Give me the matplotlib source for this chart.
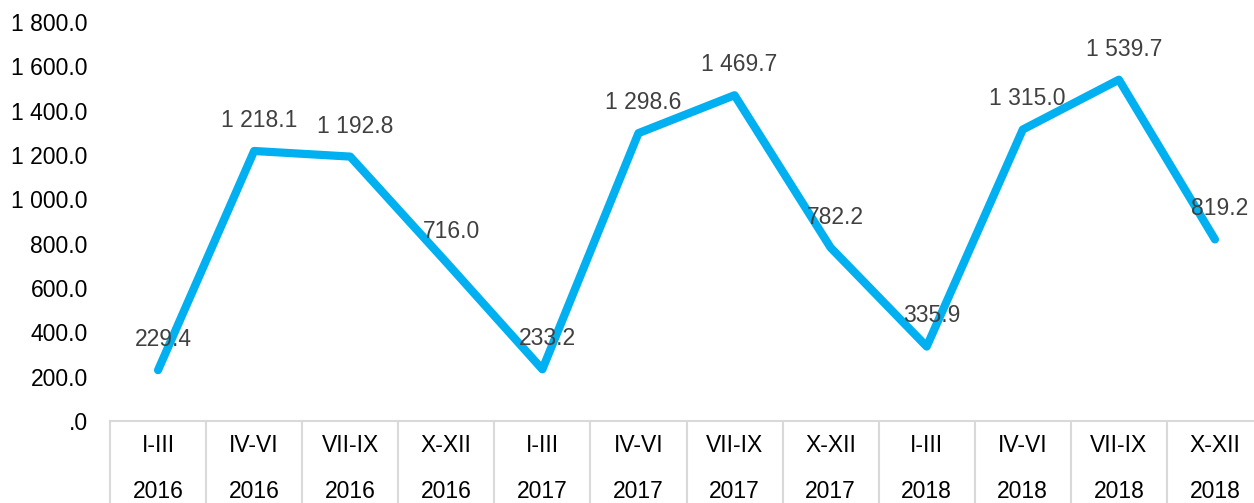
import matplotlib
matplotlib.use("Agg")
import matplotlib.pyplot as plt
from matplotlib.lines import Line2D

plt.rcParams['font.family'] = ['Liberation Sans', 'DejaVu Sans']

quarters = ["I-III", "IV-VI", "VII-IX", "X-XII"] * 3
years = ["2016"] * 4 + ["2017"] * 4 + ["2018"] * 4
values = [229.4, 1218.1, 1192.8, 716.0, 233.2, 1298.6, 1469.7, 782.2,
          335.9, 1315.0, 1539.7, 819.2]
yticks = [0, 200, 400, 600, 800, 1000, 1200, 1400, 1600, 1800]


def fmt(v):
    s = f"{v:,.1f}".replace(",", " ")
    if s.startswith("0."):
        s = s[1:]
    return s


FS = 16.5
W, H = 1254, 503
fig = plt.figure(figsize=(W / 100, H / 100), dpi=100)
ax_left, ax_right = 110 / W, 1263 / W
ax_bottom, ax_top = (H - 421) / H, (H - 22) / H
ax = fig.add_axes([ax_left, ax_bottom, ax_right - ax_left, ax_top - ax_bottom])

n = len(values)
x = list(range(n))
ax.plot(x, values, color="#00B0F0", lw=5.9, solid_capstyle="round",
        solid_joinstyle="round", zorder=3)

for xi, v in zip(x, values):
    ax.annotate(fmt(v), (xi, v), xytext=(3.5, 22), textcoords="offset points",
                ha="center", va="center", fontsize=FS, color="#404040", zorder=4)

ax.set_xlim(-0.5, n - 0.5)
ax.set_ylim(0, 1800)
ax.set_yticks(yticks)
ax.set_yticklabels([fmt(t) for t in yticks])
ax.tick_params(axis="y", length=0, pad=16, labelsize=FS, labelcolor="black")
ax.set_xticks([])
for s in ["top", "right", "left"]:
    ax.spines[s].set_visible(False)
ax.spines["bottom"].set_color("#D9D9D9")
ax.spines["bottom"].set_linewidth(1.5)

# category labels and separators (figure coordinates)
cat_w = (ax_right - ax_left) / n
for i in range(n):
    cx = ax_left + cat_w * (i + 0.5)
    fig.text(cx, (H - 446) / H, quarters[i], ha="center", va="center", fontsize=FS)
    fig.text(cx, (H - 491) / H, years[i], ha="center", va="center", fontsize=FS)
for i in range(n + 1):
    sx = ax_left + cat_w * i
    fig.add_artist(Line2D([sx, sx], [0, ax_bottom], color="#D9D9D9", lw=1.5,
                          transform=fig.transFigure))

fig.savefig("out.png", dpi=100)
